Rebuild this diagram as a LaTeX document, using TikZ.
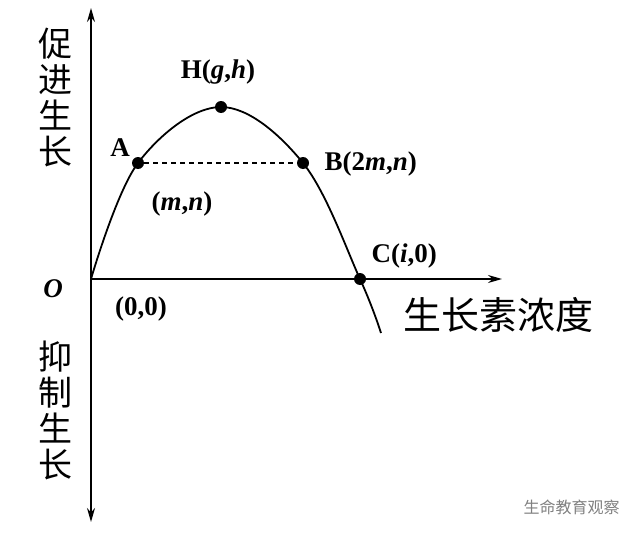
\documentclass[tikz,border=0pt]{standalone}
\usepackage{fontspec}
\setmainfont{Liberation Serif}
\newfontfamily\cjk{Noto Sans CJK SC}
\usetikzlibrary{arrows.meta}
\begin{document}
\begin{tikzpicture}[x=1pt,y=-1pt,
  lbl/.style={font=\fontsize{27}{27}\selectfont\bfseries},
  zh/.style={font=\cjk\fontsize{34}{36}\selectfont, align=center},
  dot/.style={circle,fill=black,inner sep=0pt,minimum size=12pt},
  ax/.style={line width=1.8pt,-{Stealth[length=14pt,width=8pt]}}]
\useasboundingbox (0,0) rectangle (640,535);
\coordinate (o) at (91,279);
\coordinate (top) at (91,8);
\coordinate (bot) at (91,522);
\coordinate (right) at (502,279);
\draw[ax] (o) -- (top);
\draw[ax] (o) -- (bot);
\draw[ax] (o) -- (right);
\draw[line width=1.8pt] plot[smooth,tension=0.6] coordinates {(91,279) (138,163) (221,107) (303,163) (360,279) (381,333)};
\node[dot] (A) at (138,163) {};
\node[dot] (H) at (221,107) {};
\node[dot] (B) at (303,163) {};
\node[dot] (C) at (360,279) {};
\draw[line width=1.2pt,dash pattern=on 5pt off 4pt] (A) -- (B);
\node[lbl] (lA) at (120,148) {A};
\node[lbl] (lAmn) at (182,204) {(\textit{m},\textit{n})};
\node[lbl] (lH) at (218,72) {H(\textit{g},\textit{h})};
\node[lbl,anchor=west] (lB) at (321,164) {B(2\textit{m},\textit{n})};
\node[lbl,anchor=west] (lC) at (368,256) {C(\textit{i},0)};
\node[lbl] (l00) at (141,309) {(0,0)};
\node[lbl] (lO) at (53,289) {\textit{O}};
\node[zh] (up) at (55,98) {促\\进\\生\\长};
\node[zh] (down) at (55,410) {抑\\制\\生\\长};
\node[zh,anchor=west,font=\cjk\fontsize{38}{38}\selectfont] (xl) at (400,315) {生长素浓度};
\node[font=\cjk\fontsize{16}{16}\selectfont,text=gray,anchor=west] (wm) at (520,507) {生命教育观察};
\end{tikzpicture}
\end{document}
